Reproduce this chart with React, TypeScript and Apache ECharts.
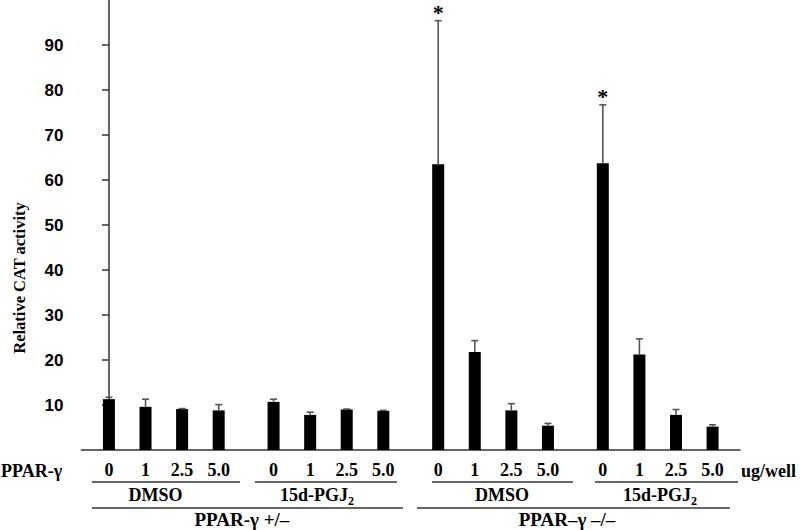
import React, { useEffect, useRef } from "react";
import * as echarts from "echarts";

const doseLabels = ["0", "1", "2.5", "5.0"];
const treatmentLabels = ["DMSO", "15d-PGJ{s|2}", "DMSO", "15d-PGJ{s|2}"];
const genotypeLabels = ["PPAR-γ +/–", "PPAR–γ –/–"];
const yTicks = [0, 10, 20, 30, 40, 50, 60, 70, 80, 90, 100];

// mean relative CAT activity, one row per treatment group
const meanValues = [
  [11.3, 9.6, 9.1, 8.8],
  [10.7, 7.8, 9.0, 8.7],
  [63.5, 21.8, 8.8, 5.4],
  [63.7, 21.2, 7.8, 5.2],
];
// top of the error bars
const upperValues = [
  [11.7, 11.3, 9.2, 10.1],
  [11.3, 8.4, 9.1, 8.8],
  [95.4, 24.3, 10.3, 5.9],
  [76.7, 24.7, 9.0, 5.6],
];
const significant = [
  [false, false, false, false],
  [false, false, false, false],
  [true, false, false, false],
  [true, false, false, false],
];

const SERIF = "Liberation Serif";
const SANS = "Liberation Sans";

// slot position of each bar on the x scale: group spacing 9, dose spacing 2
const slot = (g: number, d: number) => g * 9 + d * 2;

export default function App() {
  const ref = useRef<HTMLDivElement>(null);
  useEffect(() => {
    if (!ref.current) return;
    const chart = echarts.init(ref.current, null, { renderer: "svg" });

    const barData: any[] = [];
    const errData: any[] = [];
    meanValues.forEach((row, g) =>
      row.forEach((v, d) => {
        barData.push({ value: [slot(g, d), v], dose: doseLabels[d] });
        errData.push([slot(g, d), v, upperValues[g][d], significant[g][d] ? 1 : 0]);
      })
    );

    chart.setOption({
      animation: false,
      grid: { left: 81.5, right: 60, top: 0, bottom: 80 },
      xAxis: {
        type: "value",
        min: -1.5,
        max: 34.5,
        axisLine: { show: true, onZero: false, lineStyle: { color: "#333", width: 1.5 } },
        axisTick: { show: false },
        axisLabel: { show: false },
        splitLine: { show: false },
      },
      yAxis: {
        type: "value",
        min: yTicks[0],
        max: yTicks[yTicks.length - 1],
        interval: 10,
        axisLine: { show: true, lineStyle: { color: "#333", width: 1.5 } },
        axisTick: { show: true, inside: false, length: 7, lineStyle: { color: "#333", width: 1.5 } },
        axisLabel: {
          showMinLabel: false,
          showMaxLabel: false,
          margin: 18,
          color: "#000",
          fontFamily: SANS,
          fontWeight: "bold",
          fontSize: 17,
        },
        splitLine: { show: false },
      },
      series: [
        {
          type: "bar",
          data: barData,
          barWidth: 12,
          itemStyle: { color: "#000" },
          label: {
            show: true,
            position: "bottom",
            distance: 11,
            formatter: (p: any) => p.data.dose,
            color: "#000",
            fontFamily: SERIF,
            fontWeight: "bold",
            fontSize: 18,
          },
        },
        {
          type: "custom",
          data: errData,
          encode: { x: 0, y: [1, 2] },
          clip: false,
          z: 3,
          renderItem: (params: any, api: any) => {
            const x = api.value(0);
            const top = api.coord([x, api.value(2)]);
            const base = api.coord([x, api.value(1)]);
            const children: any[] = [
              {
                type: "line",
                shape: { x1: top[0], y1: top[1], x2: base[0], y2: base[1] },
                style: { stroke: "#555", lineWidth: 1.6 },
              },
              {
                type: "line",
                shape: { x1: top[0] - 3.5, y1: top[1], x2: top[0] + 3.5, y2: top[1] },
                style: { stroke: "#555", lineWidth: 1.6 },
              },
            ];
            if (api.value(3)) {
              children.push({
                type: "text",
                x: top[0],
                y: top[1] + 3,
                style: {
                  text: "*",
                  fill: "#000",
                  font: `bold 22px "${SERIF}"`,
                  textAlign: "center",
                  textVerticalAlign: "bottom",
                },
              });
            }
            return { type: "group", children };
          },
        },
      ],
    });

    const px = (v: number) => chart.convertToPixel({ xAxisIndex: 0 }, v) as number;
    const textStyle = (text: string, align = "center", size = 18) => ({
      text,
      fill: "#000",
      font: `bold ${size}px "${SERIF}"`,
      textAlign: align,
      textVerticalAlign: "middle",
      rich: { s: { fontSize: 12, fontFamily: SERIF, fontWeight: "bold", padding: [12, 0, 0, 0] } },
    });
    const lineEl = (a: number, b: number, y: number) => ({
      type: "line",
      shape: { x1: px(a), y1: y, x2: px(b), y2: y },
      style: { stroke: "#333", lineWidth: 1.3 },
    });

    // extents (in slot units) of the group brackets
    const treatSpans = [
      [-0.93, 7.16],
      [7.98, 15.75],
      [17.66, 25.37],
      [26.57, 34.39],
    ];
    const treatCenters = [2.54, 11.37, 21.49, 30.13];
    const genoSpans = [
      [-0.93, 16.07],
      [16.84, 33.95],
    ];
    const genoCenters = [7.27, 25.04];

    const graphic: any[] = [];
    treatSpans.forEach((s, i) => {
      graphic.push(lineEl(s[0], s[1], 482));
      graphic.push({ type: "text", x: px(treatCenters[i]), y: 495, style: textStyle(treatmentLabels[i]) });
    });
    genoSpans.forEach((s, i) => {
      graphic.push(lineEl(s[0], s[1], 508));
      graphic.push({ type: "text", x: px(genoCenters[i]), y: 519, style: textStyle(genotypeLabels[i], "center", 19) });
    });
    graphic.push({ type: "text", x: 1, y: 471, style: textStyle("PPAR-γ", "left") });
    graphic.push({ type: "text", x: 741, y: 471, style: textStyle("ug/well", "left") });
    graphic.push({
      type: "text",
      x: 19,
      y: 278,
      rotation: Math.PI / 2,
      style: {
        text: "Relative CAT activity",
        fill: "#000",
        font: `bold 16.5px "${SERIF}"`,
        textAlign: "center",
        textVerticalAlign: "middle",
      },
    });
    chart.setOption({ graphic });

    return () => chart.dispose();
  }, []);

  return (
    <div
      ref={ref}
      style={{ position: "absolute", left: 0, top: 0, width: 800, height: 530, background: "#fff" }}
    />
  );
}
